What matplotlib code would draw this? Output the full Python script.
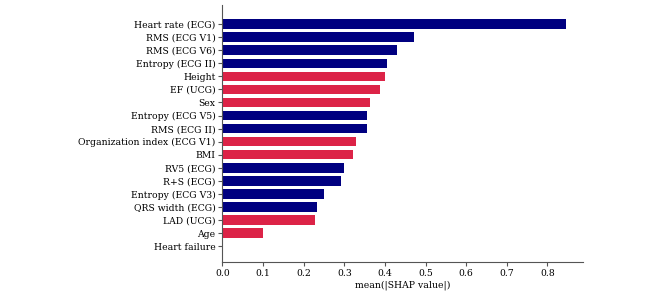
import numpy as np
import matplotlib
matplotlib.use("Agg")
from matplotlib import pyplot as plt

features = ["Heart rate (ECG)", "RMS (ECG V1)", "RMS (ECG V6)", "Entropy (ECG II)",
            "Height", "EF (UCG)", "Sex", "Entropy (ECG V5)", "RMS (ECG II)",
            "Organization index (ECG V1)", "BMI", "RV5 (ECG)", "R+S (ECG)",
            "Entropy (ECG V3)", "QRS width (ECG)", "LAD (UCG)", "Age", "Heart failure"]
shap_vals = [0.845, 0.472, 0.430, 0.406, 0.401, 0.388, 0.364, 0.357, 0.357,
             0.328, 0.322, 0.299, 0.292, 0.249, 0.233, 0.229, 0.099, 0.0]
groups = ["ecg", "ecg", "ecg", "ecg", "clin", "clin", "clin", "ecg", "ecg",
          "clin", "clin", "ecg", "ecg", "ecg", "ecg", "clin", "clin", "clin"]

colors = {"ecg": "#000080", "clin": "#dc2347"}

plt.rcParams['font.family'] = ['DejaVu Serif']
fs = 6.7

fig = plt.figure(figsize=(6.66, 2.96), dpi=100)
ax = fig.add_axes([0.334, 0.115, 0.541, 0.868])

n = len(features)
y = np.arange(n)[::-1]
ax.barh(y, shap_vals, height=0.72, color=[colors[g] for g in groups])

ax.set_yticks(y)
ax.set_yticklabels(features, fontsize=fs)
ax.set_ylim(-1.2, n - 1 + 1.45)
ax.set_xlim(0, 0.887)
ax.set_xticks(np.arange(0, 0.81, 0.1))
ax.set_xticklabels(["%.1f" % v for v in np.arange(0, 0.81, 0.1)], fontsize=fs)
ax.set_xlabel("mean(|SHAP value|)", fontsize=fs, labelpad=2)

for s in ["top", "right"]:
    ax.spines[s].set_visible(False)
for s in ["left", "bottom"]:
    ax.spines[s].set_color("#555555")
ax.tick_params(axis="both", direction="out", length=3, width=0.8, color="#555555", pad=2)

fig.savefig("out.png", dpi=100)
